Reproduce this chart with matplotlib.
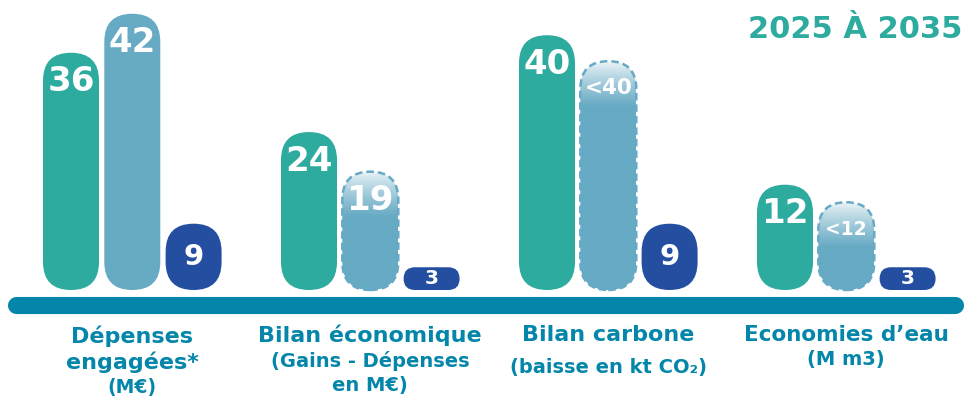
import numpy as np
import matplotlib.pyplot as plt
from matplotlib.patches import FancyBboxPatch
from matplotlib.colors import to_rgb

# data
categories = [
    ["Dépenses", "engagées*", "(M€)"],
    ["Bilan économique", "(Gains - Dépenses", "en M€)"],
    ["Bilan carbone", "(baisse en kt CO₂)"],
    ["Economies d’eau", "(M m3)"],
]
# displayed labels per bar (teal, light blue, dark blue)
labels = [
    ["36", "42", "9"],
    ["24", "19", "3"],
    ["40", "<40", "9"],
    ["12", "<12", "3"],
]
# bar lengths as drawn in the picture
heights = [
    [36.5, 42.5, 10.2],
    [24.3, 18.2, 3.5],
    [39.2, 35.2, 10.2],
    [16.2, 13.5, 3.5],
]
# light blue bars that are only estimates (dashed, faded top)
estimate = [
    [False, False, False],
    [False, True, False],
    [False, True, False],
    [False, True, False],
]
title = "2025 À 2035"

# colours
teal = "#2EAB9F"
light = "#66AAC4"
dark = "#244FA1"
line_col = "#0386A9"
bar_cols = [teal, light, dark]

W, H = 965, 400
k = 6.5          # px per unit on the y axis
base_px = 290    # baseline of bars

fig = plt.figure(figsize=(W / 100, H / 100), dpi=100)
ax = fig.add_axes([0, 0, 1, 1])
ax.set_xlim(0, W)
ax.set_ylim(-(H - base_px) / k, base_px / k)
ax.axis("off")

plt.rcParams["font.family"] = ["DejaVu Sans"]

bw = 56
step = 61.3
gstep = 238
x0 = 43

for g in range(4):
    for b in range(3):
        x = x0 + g * gstep + b * step
        h = heights[g][b]
        r = min(bw, h * k) / 2
        patch = FancyBboxPatch((x, 0), bw, h,
                               boxstyle=f"round,pad=0,rounding_size={r}",
                               mutation_aspect=1 / k,
                               fc=bar_cols[b], ec="none", zorder=2)
        ax.add_patch(patch)
        if estimate[g][b]:
            patch.set_facecolor("none")
            # gradient fill: white at top fading into light blue
            n = 200
            yy = np.linspace(h, 0, n)
            t = np.clip((h - yy) / (45 / k), 0, 1) ** 0.8
            c0 = np.array([0.95, 0.97, 0.98])
            c1 = np.array(to_rgb(light))
            img = (c0[None, :] * (1 - t[:, None]) + c1[None, :] * t[:, None])
            img = img[:, None, :]
            im = ax.imshow(img, extent=(x, x + bw, 0, h), aspect="auto",
                           zorder=2, interpolation="bilinear")
            im.set_clip_path(patch)
            edge = FancyBboxPatch((x, 0), bw, h,
                                  boxstyle=f"round,pad=0,rounding_size={r}",
                                  mutation_aspect=1 / k,
                                  fc="none", ec="#67A9C6", lw=1.8,
                                  linestyle=(0, (3, 1.6)), zorder=3)
            ax.add_patch(edge)
        txt = labels[g][b]
        if h * k < 80:
            ty = h / 2
            fs = 21 if h * k > 40 else 14.5
        else:
            ty = h - 29 / k
            fs = 24.5
        if txt.startswith("<"):
            fs = 15.5 if g == 2 else 13.5
            ty = h - 27 / k
        ax.text(x + bw / 2, ty, txt, ha="center", va="center", color="white",
                fontsize=fs, fontweight="bold", zorder=4)

    # category labels under the baseline
    cx = x0 + g * gstep + (2 * step + bw) / 2
    lines = categories[g]
    if g == 0:
        ys, sizes = [336, 362, 387], [16, 16, 13.5]
    elif g == 1:
        ys, sizes = [335, 361, 385], [16, 14, 14]
    elif g == 2:
        ys, sizes = [335, 367], [16, 14]
    else:
        ys, sizes = [335, 360], [15.5, 14]
    for s, yp, fs in zip(lines, ys, sizes):
        ax.text(cx, (base_px - yp) / k, s, ha="center", va="center",
                color=line_col, fontsize=fs, fontweight="bold")

# baseline bar
ax.plot([15.5, 954.5], [-(304.5 - base_px) / k] * 2, color=line_col,
        lw=12.3, solid_capstyle="round", zorder=1)

# title
ax.text(962, (base_px - 30) / k, title, ha="right", va="center", color=teal,
        fontsize=22, fontweight="bold")

fig.savefig("out.png", dpi=100)
